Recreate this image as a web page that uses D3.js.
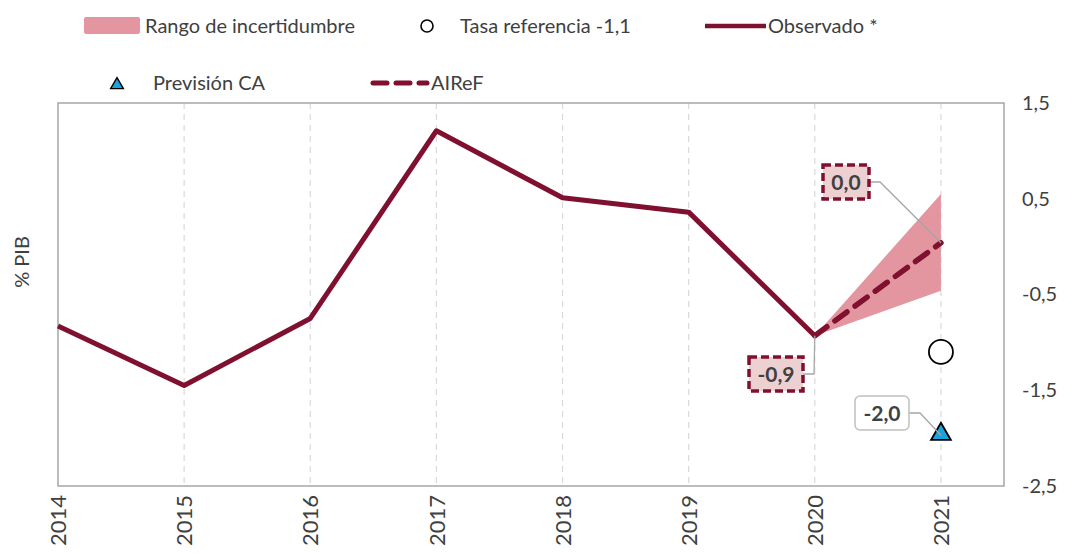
<!DOCTYPE html>
<html>
<head>
<meta charset="utf-8">
<script src="https://cdn.jsdelivr.net/npm/d3@7"></script>
<style>
  body { margin: 0; background: #fff; }
  svg text { font-family: Lato, "Open Sans", sans-serif; fill: #404040; }
</style>
</head>
<body>
<div id="chart"></div>
<script>
////////////////////// Data //////////////////////
var years = [2014, 2015, 2016, 2017, 2018, 2019, 2020, 2021];
var observed = [-0.83, -1.45, -0.75, 1.21, 0.51, 0.36, -0.93];
var airef = [{ year: 2020, v: -0.93 }, { year: 2021, v: 0.04 }];
var bandLow = [{ year: 2020, v: -0.93 }, { year: 2021, v: -0.46 }];
var bandHigh = [{ year: 2020, v: -0.93 }, { year: 2021, v: 0.55 }];
var refRate = { year: 2021, v: -1.1 };
var forecastCA = { year: 2021, v: -1.97 };
var yTicks = [1.5, 0.5, -0.5, -1.5, -2.5];

////////////////////// Layout //////////////////////
var W = 1067, H = 553;
var margin = { top: 103, right: 63, bottom: 67, left: 58 };
var width = W - margin.left - margin.right,
    height = H - margin.top - margin.bottom;

var dark = "#80102f", band = "#e3969f", grid = "#d9d9d9", frame = "#a6a6a6";

var svg = d3.select("#chart").append("svg")
  .attr("width", W).attr("height", H);

var g = svg.append("g")
  .attr("transform", "translate(" + margin.left + "," + margin.top + ")");

var x = d3.scaleLinear().domain([2014, 2021.5]).range([0, width]);
var y = d3.scaleLinear().domain([-2.5, 1.5]).range([height, 0]);
// comma decimals and plain hyphen, like the original
var fmt = function (v) { return v.toFixed(1).replace(".", ","); };

// vertical dashed grid
g.selectAll(".grid").data(years.slice(1)).enter().append("line")
  .attr("x1", d => x(d)).attr("x2", d => x(d))
  .attr("y1", 0).attr("y2", height)
  .attr("stroke", grid).attr("stroke-width", 1.2)
  .attr("stroke-dasharray", "6,5");

// frame
g.append("rect").attr("width", width).attr("height", height)
  .attr("fill", "none").attr("stroke", frame).attr("stroke-width", 1.5);

// right y axis labels
var yAxis = g.append("g")
  .attr("transform", "translate(" + (width + 15) + ",0)")
  .call(d3.axisRight(y).tickValues(yTicks).tickSize(0).tickFormat(fmt));
yAxis.select(".domain").remove();
yAxis.selectAll("text").attr("font-size", 20).attr("fill", "#404040")
  .style("font-family", "Lato, sans-serif");

// bottom x axis labels (rotated)
var xAxis = g.append("g")
  .attr("transform", "translate(0," + height + ")")
  .call(d3.axisBottom(x).tickValues(years).tickSize(0).tickFormat(d3.format("d")));
xAxis.select(".domain").remove();
xAxis.selectAll("text")
  .attr("font-size", 22).attr("fill", "#404040")
  .style("font-family", "Lato, sans-serif")
  .attr("text-anchor", "end")
  .attr("dy", "0.35em")
  .attr("transform", "translate(0,9) rotate(-90)")
  .attr("x", 0).attr("y", 0);

// y title
svg.append("text")
  .attr("transform", "translate(29,262) rotate(-90)")
  .attr("text-anchor", "middle").attr("font-size", 20)
  .text("% PIB");

// uncertainty band
var area = d3.area().x(d => x(d.year)).y0((d, i) => y(bandLow[i].v)).y1(d => y(d.v));
g.append("path").datum(bandHigh).attr("d", area).attr("fill", band);

// observed line
var line = d3.line().x(d => x(d.year)).y(d => y(d.v));
var obsData = observed.map((v, i) => ({ year: years[i], v: v }));
g.append("path").datum(obsData).attr("d", line)
  .attr("fill", "none").attr("stroke", dark).attr("stroke-width", 5)
  .attr("stroke-linejoin", "round");

// AIReF dashed
g.append("path").datum(airef).attr("d", line)
  .attr("fill", "none").attr("stroke", dark).attr("stroke-width", 5.5)
  .attr("stroke-dasharray", "15,10").attr("stroke-linecap", "round");

// reference rate circle
g.append("circle").attr("cx", x(refRate.year)).attr("cy", y(refRate.v)).attr("r", 12)
  .attr("fill", "#fff").attr("stroke", "#000").attr("stroke-width", 1.8);

// CA forecast triangle
var tri = d3.symbol().type(d3.symbolTriangle).size(170);
g.append("path").attr("d", tri)
  .attr("transform", "translate(" + x(forecastCA.year) + "," + (y(forecastCA.v) - 1) + ")")
  .attr("fill", "#1aa3dc").attr("stroke", "#000").attr("stroke-width", 1.8);

////////////////////// Data labels //////////////////////
function dataLabel(px, py, bx, by, text, style) {
  var bw = 46, bh = 34;
  if (text.length > 3) bw = 54;
  // leader line: box right side -> elbow -> point
  g.append("polyline")
    .attr("points", [[bx + bw, by + bh / 2], [bx + bw + 11, by + bh / 2], [px, py]].map(p => p.join(",")).join(" "))
    .attr("fill", "none").attr("stroke", "#a6a6a6").attr("stroke-width", 1.3);
  var r = g.append("rect").attr("x", bx).attr("y", by).attr("width", bw).attr("height", bh);
  if (style === "dashed") {
    r.attr("fill", "#ecd0d2").attr("stroke", dark).attr("stroke-width", 3.5)
      .attr("stroke-dasharray", "8,4");
  } else {
    r.attr("fill", "#fff").attr("stroke", "#c0c0c0").attr("stroke-width", 1.5)
      .attr("rx", 5);
  }
  g.append("text").attr("x", bx + bw / 2).attr("y", by + bh / 2)
    .attr("dy", "0.36em").attr("text-anchor", "middle")
    .attr("font-size", 21).attr("font-weight", "bold").text(text);
}

dataLabel(x(2021), y(airef[1].v), 823 - margin.left, 165 - margin.top, "0,0", "dashed");
dataLabel(x(2020), y(observed[6]), 749 - margin.left, 357 - margin.top, "-0,9", "dashed");
dataLabel(x(2021), y(forecastCA.v), 855 - margin.left, 396 - margin.top, "-2,0", "plain");

////////////////////// Legend //////////////////////
var leg = svg.append("g");
leg.append("rect").attr("x", 84).attr("y", 17).attr("width", 56).attr("height", 17)
  .attr("rx", 2).attr("fill", band);
leg.append("text").attr("x", 145).attr("y", 26).attr("dy", "0.35em").attr("font-size", 20)
  .text("Rango de incertidumbre");

leg.append("circle").attr("cx", 427).attr("cy", 26).attr("r", 6)
  .attr("fill", "#fff").attr("stroke", "#000").attr("stroke-width", 1.6);
leg.append("text").attr("x", 460).attr("y", 26).attr("dy", "0.35em").attr("font-size", 20)
  .text("Tasa referencia -1,1");

leg.append("line").attr("x1", 705).attr("x2", 766).attr("y1", 26).attr("y2", 26)
  .attr("stroke", dark).attr("stroke-width", 4.5);
leg.append("text").attr("x", 768).attr("y", 26).attr("dy", "0.35em").attr("font-size", 20)
  .text("Observado *");

leg.append("path").attr("d", d3.symbol().type(d3.symbolTriangle).size(70))
  .attr("transform", "translate(117,85)")
  .attr("fill", "#1aa3dc").attr("stroke", "#000").attr("stroke-width", 1.4);
leg.append("text").attr("x", 153).attr("y", 83).attr("dy", "0.35em").attr("font-size", 20)
  .text("Previsión CA");

leg.append("line").attr("x1", 373).attr("x2", 427).attr("y1", 83).attr("y2", 83)
  .attr("stroke", dark).attr("stroke-width", 5)
  .attr("stroke-dasharray", "14,9").attr("stroke-linecap", "round");
leg.append("text").attr("x", 431).attr("y", 83).attr("dy", "0.35em").attr("font-size", 20)
  .text("AIReF");
</script>
</body>
</html>
